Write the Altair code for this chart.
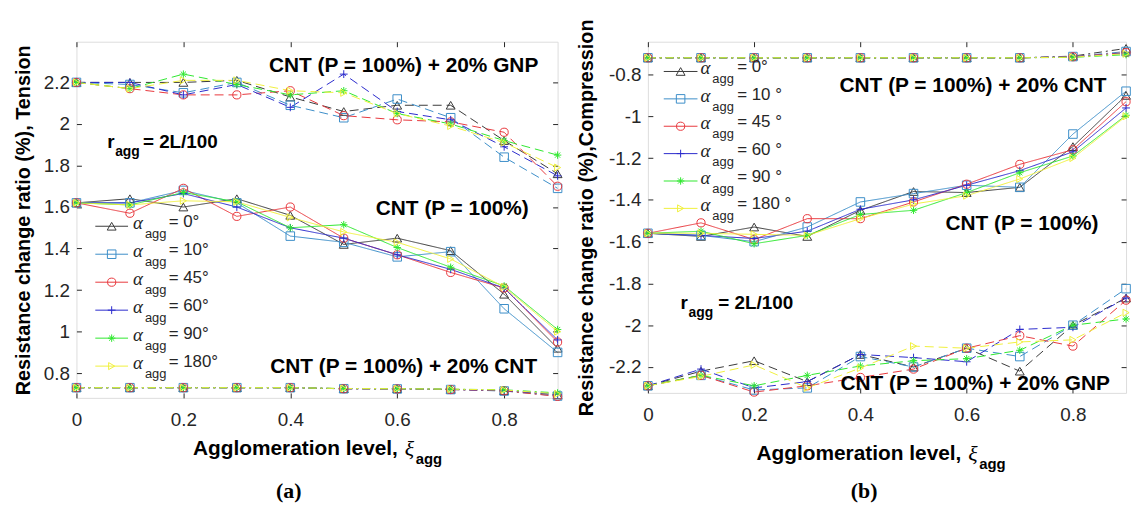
import altair as alt
import pandas as pd

# ---------------- data ----------------
xi = [0, 0.1, 0.2, 0.3, 0.4, 0.5, 0.6, 0.7, 0.8, 0.9]
angles = ["0°", "10°", "45°", "60°", "90°", "180°"]
legend_a = ["= 0°", "= 10°", "= 45°", "= 60°", "= 90°", "= 180°"]
legend_b = ["= 0°", "= 10 °", "= 45 °", "= 60 °", "= 90 °", "= 180 °"]
groups = ["+20% GNP", "P = 100%", "+20% CNT"]

# Tension, CNT (P = 100%) + 20% GNP
tension_gnp = {
    "0°":   [2.20, 2.20, 2.20, 2.21, 2.13, 2.06, 2.09, 2.09, 1.92, 1.76],
    "10°":  [2.20, 2.19, 2.15, 2.20, 2.09, 2.03, 2.12, 2.03, 1.84, 1.69],
    "45°":  [2.20, 2.17, 2.14, 2.14, 2.16, 2.04, 2.02, 2.01, 1.96, 1.70],
    "60°":  [2.20, 2.20, 2.14, 2.19, 2.08, 2.24, 2.06, 2.02, 1.89, 1.75],
    "90°":  [2.20, 2.17, 2.24, 2.19, 2.14, 2.16, 2.05, 2.00, 1.92, 1.85],
    "180°": [2.20, 2.17, 2.21, 2.21, 2.16, 2.15, 2.05, 1.99, 1.91, 1.79],
}
# Tension, CNT (P = 100%)
tension_cnt = {
    "0°":   [1.62, 1.64, 1.60, 1.64, 1.56, 1.42, 1.45, 1.39, 1.18, 0.92],
    "10°":  [1.62, 1.62, 1.68, 1.62, 1.46, 1.43, 1.36, 1.385, 1.11, 0.90],
    "45°":  [1.62, 1.57, 1.69, 1.555, 1.60, 1.45, 1.37, 1.285, 1.21, 0.95],
    "60°":  [1.62, 1.62, 1.665, 1.60, 1.50, 1.45, 1.37, 1.30, 1.21, 0.96],
    "90°":  [1.62, 1.61, 1.67, 1.625, 1.50, 1.515, 1.405, 1.31, 1.22, 1.01],
    "180°": [1.62, 1.61, 1.63, 1.625, 1.55, 1.48, 1.43, 1.35, 1.215, 1.00],
}
# Tension, CNT (P = 100%) + 20% CNT
tension_cnt20 = {
    "0°":   [0.73, 0.73, 0.73, 0.73, 0.73, 0.725, 0.725, 0.722, 0.716, 0.695],
    "10°":  [0.73, 0.73, 0.73, 0.73, 0.73, 0.725, 0.724, 0.721, 0.714, 0.690],
    "45°":  [0.73, 0.73, 0.73, 0.73, 0.73, 0.725, 0.724, 0.721, 0.715, 0.688],
    "60°":  [0.73, 0.73, 0.73, 0.73, 0.73, 0.725, 0.725, 0.722, 0.717, 0.698],
    "90°":  [0.73, 0.73, 0.73, 0.73, 0.73, 0.726, 0.725, 0.723, 0.720, 0.705],
    "180°": [0.73, 0.73, 0.73, 0.73, 0.73, 0.726, 0.725, 0.723, 0.719, 0.700],
}
# Compression, CNT (P = 100%) + 20% CNT
compr_cnt20 = {
    "0°":   [-0.72, -0.72, -0.72, -0.72, -0.72, -0.72, -0.72, -0.72, -0.712, -0.675],
    "10°":  [-0.72, -0.72, -0.72, -0.72, -0.72, -0.72, -0.72, -0.72, -0.714, -0.690],
    "45°":  [-0.72, -0.72, -0.72, -0.72, -0.72, -0.72, -0.72, -0.72, -0.715, -0.695],
    "60°":  [-0.72, -0.72, -0.72, -0.72, -0.72, -0.72, -0.72, -0.72, -0.716, -0.698],
    "90°":  [-0.72, -0.72, -0.72, -0.72, -0.72, -0.72, -0.72, -0.72, -0.718, -0.705],
    "180°": [-0.72, -0.72, -0.72, -0.72, -0.72, -0.72, -0.72, -0.72, -0.717, -0.700],
}
# Compression, CNT (P = 100%)
compr_cnt = {
    "0°":   [-1.56, -1.575, -1.53, -1.575, -1.45, -1.36, -1.365, -1.34, -1.145, -0.90],
    "10°":  [-1.56, -1.57, -1.60, -1.53, -1.41, -1.37, -1.33, -1.34, -1.085, -0.88],
    "45°":  [-1.56, -1.51, -1.59, -1.49, -1.49, -1.41, -1.325, -1.23, -1.16, -0.93],
    "60°":  [-1.56, -1.57, -1.585, -1.55, -1.445, -1.40, -1.33, -1.26, -1.17, -0.96],
    "90°":  [-1.56, -1.55, -1.61, -1.57, -1.47, -1.45, -1.365, -1.27, -1.19, -0.995],
    "180°": [-1.56, -1.56, -1.565, -1.57, -1.49, -1.42, -1.38, -1.30, -1.20, -1.00],
}
# Compression, CNT (P = 100%) + 20% GNP
compr_gnp = {
    "0°":   [-2.29, -2.22, -2.17, -2.27, -2.14, -2.20, -2.11, -2.22, -2.00, -1.87],
    "10°":  [-2.29, -2.24, -2.31, -2.30, -2.15, -2.20, -2.11, -2.15, -2.00, -1.825],
    "45°":  [-2.29, -2.24, -2.32, -2.29, -2.25, -2.21, -2.11, -2.05, -2.10, -1.88],
    "60°":  [-2.29, -2.21, -2.30, -2.27, -2.14, -2.155, -2.175, -2.02, -2.01, -1.87],
    "90°":  [-2.29, -2.24, -2.29, -2.24, -2.195, -2.17, -2.16, -2.12, -2.00, -1.97],
    "180°": [-2.29, -2.245, -2.19, -2.30, -2.205, -2.10, -2.11, -2.08, -2.07, -1.94],
}

xticks = [0, 0.2, 0.4, 0.6, 0.8]
yticks_a = [0.8, 1, 1.2, 1.4, 1.6, 1.8, 2, 2.2]
yticks_b = [-2.2, -2, -1.8, -1.6, -1.4, -1.2, -1, -0.8]

ann_a_x = [0.612, 0.703, 0.612]
ann_a_y = [2.281, 1.588, 0.829]
ann_a_text = ["CNT (P = 100%) + 20% GNP", "CNT (P = 100%)", "CNT (P = 100%) + 20% CNT"]
ann_b_x = [0.612, 0.704, 0.616]
ann_b_y = [-0.857, -1.514, -2.281]
ann_b_text = ["CNT (P = 100%) + 20% CNT", "CNT (P = 100%)", "CNT (P = 100%) + 20% GNP"]

# ---------------- styles ----------------
FONT = "Liberation Sans, Arial, sans-serif"
SERIF = "Liberation Serif, Times New Roman, serif"
INK = "#262626"
colors = ["#3a3a3a", "#3c8ec8", "#e8383d", "#2a2acc", "#2fe82f", "#f0f03c"]
PLUS = "M-1,0L1,0M0,-1L0,1"
STAR = "M-1,0L1,0M0,-1L0,1M-0.7,-0.7L0.7,0.7M-0.7,0.7L0.7,-0.7"
shapes = ["triangle-up", "square", "circle", PLUS, STAR, "triangle-right"]
sizes = [80, 50, 65, 90, 90, 75]
dashes = [[9, 5], [1, 0], [8, 4, 2, 4]]

color_scale = alt.Scale(domain=angles, range=colors)
shape_scale = alt.Scale(domain=angles, range=shapes)
size_scale = alt.Scale(domain=angles, range=sizes)
dash_scale = alt.Scale(domain=groups, range=dashes)


def build_df(series):
    rows = []
    for g, d in zip(groups, series):
        for a in angles:
            for x, v in zip(xi, d[a]):
                rows.append({"x": x, "v": v, "angle": a, "group": g})
    return pd.DataFrame(rows)


def panel(series, ydom, yticks, W, H, ytitle, ytitle_x, ann_x, ann_y, ann_t,
          ragg, ragg_dx, leg_labels, leg_rows, leg_x, xt, caption, cap_xy):
    xs = alt.Scale(domain=[0, 0.9], nice=False, zero=False)
    ys = alt.Scale(domain=ydom, nice=False, zero=False)
    x_axis = alt.Axis(values=xticks, labelExpr="toString(datum.value)", ticks=False,
                      domain=False, grid=False, labelFont=FONT, labelFontSize=19,
                      labelColor=INK, labelPadding=13, labelFlush=False, title=None)
    y_axis = alt.Axis(values=yticks, labelExpr="toString(datum.value)", ticks=False,
                      domain=False, grid=False, labelFont=FONT, labelFontSize=19,
                      labelColor=INK, labelPadding=7, labelFlush=False, title=ytitle,
                      titleFont=FONT, titleFontSize=20, titleFontWeight="bold",
                      titleColor="black", titleX=ytitle_x, titleY=H / 2,
                      titleBaseline="middle", titleAngle=270)
    X = alt.X("x:Q", scale=xs, axis=x_axis)
    Y = alt.Y("v:Q", scale=ys, axis=y_axis)
    col = alt.Color("angle:N", scale=color_scale, legend=None)
    shp = alt.Shape("angle:N", scale=shape_scale, legend=None)
    siz = alt.Size("angle:N", scale=size_scale, legend=None)

    df = build_df(series)
    lines = alt.Chart(df).mark_line(strokeWidth=1).encode(
        x=X, y=Y, color=col,
        strokeDash=alt.StrokeDash("group:N", scale=dash_scale, legend=None))
    pts = alt.Chart(df).mark_point(filled=False, strokeWidth=1, opacity=1).encode(
        x=X, y=Y, color=col, shape=shp, size=siz)

    adf = pd.DataFrame({"x": ann_x, "v": ann_y, "t": ann_t})
    ann = alt.Chart(adf).mark_text(font=FONT, fontSize=21, fontWeight="bold",
                                   color="black", align="center", baseline="middle").encode(
        x=X, y=Y, text="t:N")
    rdf = pd.DataFrame({"x": [ragg[0]], "v": [ragg[1]]})
    r1 = alt.Chart(rdf).mark_text(text="r", font=FONT, fontSize=19, fontWeight="bold",
                                  color="black", align="left", baseline="middle").encode(x=X, y=Y)
    r2 = alt.Chart(rdf).mark_text(text="agg", font=FONT, fontSize=14, fontWeight="bold",
                                  color="black", align="left", baseline="middle",
                                  dx=ragg_dx[0], dy=10).encode(x=X, y=Y)
    r3 = alt.Chart(rdf).mark_text(text="= 2L/100", font=FONT, fontSize=19, fontWeight="bold",
                                  color="black", align="left", baseline="middle",
                                  dx=ragg_dx[1]).encode(x=X, y=Y)

    one = pd.DataFrame({"k": [0]})
    xt1 = alt.Chart(one).mark_text(text="Agglomeration level,", font=FONT, fontSize=21,
                                   fontWeight="bold", color="black", align="right",
                                   baseline="middle").encode(x=alt.value(xt[0]), y=alt.value(xt[1]))
    xt2 = alt.Chart(one).mark_text(text="ξ", font=SERIF, fontSize=22, fontStyle="italic",
                                   color="black", align="left",
                                   baseline="middle").encode(x=alt.value(xt[0] + 7), y=alt.value(xt[1]))
    xt3 = alt.Chart(one).mark_text(text="agg", font=FONT, fontSize=15, fontWeight="bold",
                                   color="black", align="left",
                                   baseline="middle").encode(x=alt.value(xt[0] + 18), y=alt.value(xt[1] + 10))
    cap = alt.Chart(one).mark_text(text=caption, font=SERIF, fontSize=22, fontWeight="bold",
                                   color="black", align="center",
                                   baseline="middle").encode(x=alt.value(cap_xy[0]), y=alt.value(cap_xy[1]))

    inner = alt.layer(lines, pts, ann, r1, r2, r3, xt1, xt2, xt3, cap)

    # inward tick marks on all four sides
    hdf = pd.DataFrame({"x": [0.45], "v": [(ydom[0] + ydom[1]) / 2]})
    tk = dict(labels=False, ticks=True, tickSize=5, tickColor=INK, tickWidth=1,
              domain=False, grid=False, title=None)
    hb = alt.Chart(hdf).mark_point(opacity=0).encode(
        x=alt.X("x:Q", scale=xs, axis=alt.Axis(orient="top", offset=-H, values=xticks, **tk)),
        y=alt.Y("v:Q", scale=ys, axis=alt.Axis(orient="right", offset=-W, values=yticks, **tk)))
    hc = alt.Chart(hdf).mark_point(opacity=0).encode(
        x=alt.X("x:Q", scale=xs, axis=alt.Axis(orient="bottom", offset=-H, values=xticks, **tk)),
        y=alt.Y("v:Q", scale=ys, axis=alt.Axis(orient="left", offset=-W, values=yticks, **tk)))

    # legend
    ldf = pd.DataFrame({"idx": list(range(6)), "angle": angles, "lab": leg_labels})
    LY = alt.Y("idx:Q", scale=alt.Scale(domain=[0, 5], range=leg_rows, nice=False, zero=False), axis=None)
    l_line = alt.Chart(ldf).mark_rule(strokeWidth=1).encode(
        x=alt.value(leg_x[0]), x2=alt.value(leg_x[1]), y=LY, color=col)
    l_pt = alt.Chart(ldf).mark_point(filled=False, strokeWidth=1, opacity=1).encode(
        x=alt.value((leg_x[0] + leg_x[1]) / 2), y=LY, color=col, shape=shp, size=siz)
    l_a = alt.Chart(ldf).mark_text(text="α", font=SERIF, fontSize=19, fontStyle="italic",
                                   color=INK, align="left", baseline="middle", dy=-3).encode(
        x=alt.value(leg_x[2]), y=LY)
    l_s = alt.Chart(ldf).mark_text(text="agg", font=FONT, fontSize=13, color=INK,
                                   align="left", baseline="middle", dy=8).encode(
        x=alt.value(leg_x[3]), y=LY)
    l_e = alt.Chart(ldf).mark_text(font=FONT, fontSize=17, color=INK, align="left",
                                   baseline="middle", dy=-4).encode(
        x=alt.value(leg_x[4]), y=LY, text="lab:N")
    legend = alt.layer(l_line, l_pt, l_a, l_s, l_e)

    return alt.layer(inner, hb, hc, legend).resolve_scale(
        x="independent", y="independent").properties(width=W, height=H)


WA, HA = 485, 359
WB, HB = 482, 354

left = panel([tension_gnp, tension_cnt, tension_cnt20], [0.681, 2.396], yticks_a, WA, HA,
             "Resistance change ratio (%), Tension", -53,
             ann_a_x, ann_a_y, ann_a_text, (0.0575, 1.913), (8, 36),
             legend_a, [186, 327], [19, 52, 57, 69, 93], (324, 411), "(a)", (214, 453))
right = panel([compr_gnp, compr_cnt, compr_cnt20], [-2.324, -0.643], yticks_b, WB, HB,
              "Resistance change ratio (%),Compression", -62,
              ann_b_x, ann_b_y, ann_b_text, (0.0616, -1.895), (8, 38),
              legend_b, [30, 168], [16, 50, 53, 65, 90], (316, 416), "(b)", (218, 453))

chart = alt.hconcat(left, right, spacing=91, bounds="flush",
                    padding={"left": 5, "top": 8, "right": 0, "bottom": 0}).configure_view(
    stroke=INK, strokeWidth=1).configure(background="white")

chart.save("out.html", embed_options={"renderer": "svg", "actions": False})
